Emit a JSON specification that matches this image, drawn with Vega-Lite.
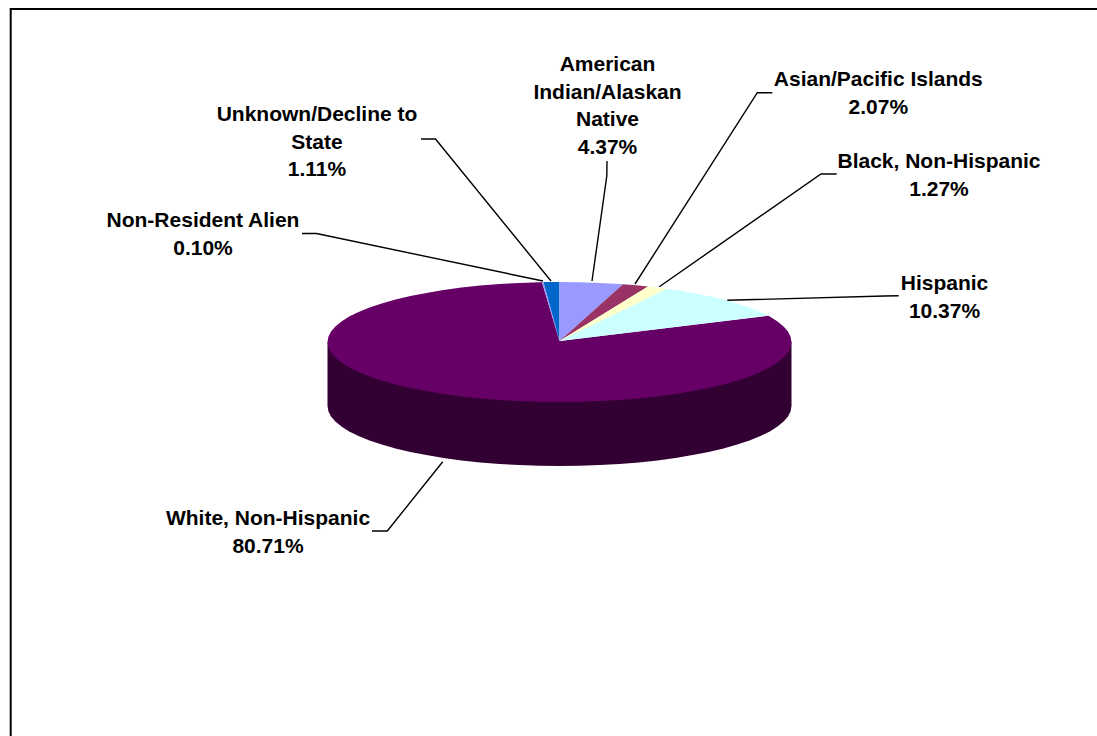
{
  "$schema": "https://vega.github.io/schema/vega-lite/v6.json",
  "width": 1097,
  "height": 736,
  "padding": 0,
  "autosize": "none",
  "background": "white",
  "config": {"view": {"stroke": null}},
  "datasets": {
    "slices": [
      {"slice":"Side","o":1,"x":232,"y":0},{"slice":"Side","o":2,"x":232,"y":-64},{"slice":"Side","o":3,"x":231.1,"y":-69.2},{"slice":"Side","o":4,"x":228.5,"y":-74.4},{"slice":"Side","o":5,"x":224.1,"y":-79.5},{"slice":"Side","o":6,"x":218,"y":-84.5},{"slice":"Side","o":7,"x":210.3,"y":-89.4},{"slice":"Side","o":8,"x":200.9,"y":-94},{"slice":"Side","o":9,"x":190,"y":-98.4},{"slice":"Side","o":10,"x":177.7,"y":-102.6},{"slice":"Side","o":11,"x":164,"y":-106.4},{"slice":"Side","o":12,"x":149.1,"y":-110},{"slice":"Side","o":13,"x":133.1,"y":-113.1},{"slice":"Side","o":14,"x":116,"y":-116},{"slice":"Side","o":15,"x":98,"y":-118.4},{"slice":"Side","o":16,"x":79.3,"y":-120.4},{"slice":"Side","o":17,"x":60,"y":-122},{"slice":"Side","o":18,"x":40.3,"y":-123.1},{"slice":"Side","o":19,"x":20.2,"y":-123.8},{"slice":"Side","o":20,"x":0,"y":-124},{"slice":"Side","o":21,"x":-20.2,"y":-123.8},{"slice":"Side","o":22,"x":-40.3,"y":-123.1},{"slice":"Side","o":23,"x":-60,"y":-122},{"slice":"Side","o":24,"x":-79.3,"y":-120.4},{"slice":"Side","o":25,"x":-98,"y":-118.4},{"slice":"Side","o":26,"x":-116,"y":-116},{"slice":"Side","o":27,"x":-133.1,"y":-113.1},{"slice":"Side","o":28,"x":-149.1,"y":-110},{"slice":"Side","o":29,"x":-164,"y":-106.4},{"slice":"Side","o":30,"x":-177.7,"y":-102.6},{"slice":"Side","o":31,"x":-190,"y":-98.4},{"slice":"Side","o":32,"x":-200.9,"y":-94},{"slice":"Side","o":33,"x":-210.3,"y":-89.4},{"slice":"Side","o":34,"x":-218,"y":-84.5},{"slice":"Side","o":35,"x":-224.1,"y":-79.5},{"slice":"Side","o":36,"x":-228.5,"y":-74.4},{"slice":"Side","o":37,"x":-231.1,"y":-69.2},{"slice":"Side","o":38,"x":-232,"y":-64},{"slice":"Side","o":39,"x":-232,"y":0},

      {"slice":"White, Non-Hispanic","o":1,"x":0,"y":1},{"slice":"White, Non-Hispanic","o":2,"x":208.5,"y":26.3},{"slice":"White, Non-Hispanic","o":3,"x":210.3,"y":25.4},{"slice":"White, Non-Hispanic","o":4,"x":218,"y":20.5},{"slice":"White, Non-Hispanic","o":5,"x":224.1,"y":15.5},{"slice":"White, Non-Hispanic","o":6,"x":228.5,"y":10.4},{"slice":"White, Non-Hispanic","o":7,"x":231.1,"y":5.2},{"slice":"White, Non-Hispanic","o":8,"x":232,"y":0},{"slice":"White, Non-Hispanic","o":9,"x":231.1,"y":-5.2},{"slice":"White, Non-Hispanic","o":10,"x":228.5,"y":-10.4},{"slice":"White, Non-Hispanic","o":11,"x":224.1,"y":-15.5},{"slice":"White, Non-Hispanic","o":12,"x":218,"y":-20.5},{"slice":"White, Non-Hispanic","o":13,"x":210.3,"y":-25.4},{"slice":"White, Non-Hispanic","o":14,"x":200.9,"y":-30},{"slice":"White, Non-Hispanic","o":15,"x":190,"y":-34.4},{"slice":"White, Non-Hispanic","o":16,"x":177.7,"y":-38.6},{"slice":"White, Non-Hispanic","o":17,"x":164,"y":-42.4},{"slice":"White, Non-Hispanic","o":18,"x":149.1,"y":-46},{"slice":"White, Non-Hispanic","o":19,"x":133.1,"y":-49.1},{"slice":"White, Non-Hispanic","o":20,"x":116,"y":-52},{"slice":"White, Non-Hispanic","o":21,"x":98,"y":-54.4},{"slice":"White, Non-Hispanic","o":22,"x":79.3,"y":-56.4},{"slice":"White, Non-Hispanic","o":23,"x":60,"y":-58},{"slice":"White, Non-Hispanic","o":24,"x":40.3,"y":-59.1},{"slice":"White, Non-Hispanic","o":25,"x":20.2,"y":-59.8},{"slice":"White, Non-Hispanic","o":26,"x":0,"y":-60},{"slice":"White, Non-Hispanic","o":27,"x":-20.2,"y":-59.8},{"slice":"White, Non-Hispanic","o":28,"x":-40.3,"y":-59.1},{"slice":"White, Non-Hispanic","o":29,"x":-60,"y":-58},{"slice":"White, Non-Hispanic","o":30,"x":-79.3,"y":-56.4},{"slice":"White, Non-Hispanic","o":31,"x":-98,"y":-54.4},{"slice":"White, Non-Hispanic","o":32,"x":-116,"y":-52},{"slice":"White, Non-Hispanic","o":33,"x":-133.1,"y":-49.1},{"slice":"White, Non-Hispanic","o":34,"x":-149.1,"y":-46},{"slice":"White, Non-Hispanic","o":35,"x":-164,"y":-42.4},{"slice":"White, Non-Hispanic","o":36,"x":-177.7,"y":-38.6},{"slice":"White, Non-Hispanic","o":37,"x":-190,"y":-34.4},{"slice":"White, Non-Hispanic","o":38,"x":-200.9,"y":-30},{"slice":"White, Non-Hispanic","o":39,"x":-210.3,"y":-25.4},{"slice":"White, Non-Hispanic","o":40,"x":-218,"y":-20.5},{"slice":"White, Non-Hispanic","o":41,"x":-224.1,"y":-15.5},{"slice":"White, Non-Hispanic","o":42,"x":-228.5,"y":-10.4},{"slice":"White, Non-Hispanic","o":43,"x":-231.1,"y":-5.2},{"slice":"White, Non-Hispanic","o":44,"x":-232,"y":0},{"slice":"White, Non-Hispanic","o":45,"x":-231.1,"y":5.2},{"slice":"White, Non-Hispanic","o":46,"x":-228.5,"y":10.4},{"slice":"White, Non-Hispanic","o":47,"x":-224.1,"y":15.5},{"slice":"White, Non-Hispanic","o":48,"x":-218,"y":20.5},{"slice":"White, Non-Hispanic","o":49,"x":-210.3,"y":25.4},{"slice":"White, Non-Hispanic","o":50,"x":-200.9,"y":30},{"slice":"White, Non-Hispanic","o":51,"x":-190,"y":34.4},{"slice":"White, Non-Hispanic","o":52,"x":-177.7,"y":38.6},{"slice":"White, Non-Hispanic","o":53,"x":-164,"y":42.4},{"slice":"White, Non-Hispanic","o":54,"x":-149.1,"y":46},{"slice":"White, Non-Hispanic","o":55,"x":-133.1,"y":49.1},{"slice":"White, Non-Hispanic","o":56,"x":-116,"y":52},{"slice":"White, Non-Hispanic","o":57,"x":-98,"y":54.4},{"slice":"White, Non-Hispanic","o":58,"x":-79.3,"y":56.4},{"slice":"White, Non-Hispanic","o":59,"x":-60,"y":58},{"slice":"White, Non-Hispanic","o":60,"x":-40.3,"y":59.1},{"slice":"White, Non-Hispanic","o":61,"x":-20.2,"y":59.8},{"slice":"White, Non-Hispanic","o":62,"x":-17.5,"y":59.8},

      {"slice":"Non-Resident Alien","o":1,"x":0,"y":1},{"slice":"Non-Resident Alien","o":2,"x":-17.5,"y":59.8},{"slice":"Non-Resident Alien","o":3,"x":-16,"y":59.9},

      {"slice":"Unknown/Decline to State","o":1,"x":0,"y":1},{"slice":"Unknown/Decline to State","o":2,"x":-16,"y":59.9},{"slice":"Unknown/Decline to State","o":3,"x":0,"y":60},

      {"slice":"American Indian/Alaskan Native","o":1,"x":0,"y":1},{"slice":"American Indian/Alaskan Native","o":2,"x":0,"y":60},{"slice":"American Indian/Alaskan Native","o":3,"x":20.2,"y":59.8},{"slice":"American Indian/Alaskan Native","o":4,"x":40.3,"y":59.1},{"slice":"American Indian/Alaskan Native","o":5,"x":60,"y":58},{"slice":"American Indian/Alaskan Native","o":6,"x":63.5,"y":57.7},

      {"slice":"Asian/Pacific Islands","o":1,"x":0,"y":1},{"slice":"Asian/Pacific Islands","o":2,"x":63.5,"y":57.7},{"slice":"Asian/Pacific Islands","o":3,"x":79.3,"y":56.4},{"slice":"Asian/Pacific Islands","o":4,"x":88.5,"y":55.5},

      {"slice":"Black, Non-Hispanic","o":1,"x":0,"y":1},{"slice":"Black, Non-Hispanic","o":2,"x":88.5,"y":55.5},{"slice":"Black, Non-Hispanic","o":3,"x":98,"y":54.4},{"slice":"Black, Non-Hispanic","o":4,"x":107.5,"y":53.1},

      {"slice":"Hispanic","o":1,"x":0,"y":1},{"slice":"Hispanic","o":2,"x":107.5,"y":53.1},{"slice":"Hispanic","o":3,"x":116,"y":52},{"slice":"Hispanic","o":4,"x":133.1,"y":49.1},{"slice":"Hispanic","o":5,"x":149.1,"y":46},{"slice":"Hispanic","o":6,"x":164,"y":42.4},{"slice":"Hispanic","o":7,"x":177.7,"y":38.6},{"slice":"Hispanic","o":8,"x":190,"y":34.4},{"slice":"Hispanic","o":9,"x":200.9,"y":30},{"slice":"Hispanic","o":10,"x":208.5,"y":26.3}
    ],
    "leaders": [
      {"leader":"Unknown","o":1,"x":-138.5,"y":203},{"leader":"Unknown","o":2,"x":-124,"y":203},{"leader":"Unknown","o":3,"x":-8.5,"y":61},
      {"leader":"Non-Resident","o":1,"x":-257.5,"y":108.5},{"leader":"Non-Resident","o":2,"x":-243,"y":108.5},{"leader":"Non-Resident","o":3,"x":-16.5,"y":61},
      {"leader":"American","o":1,"x":47.5,"y":181},{"leader":"American","o":2,"x":47.3,"y":166},{"leader":"American","o":3,"x":32.5,"y":61},
      {"leader":"Asian","o":1,"x":212.8,"y":249.3},{"leader":"Asian","o":2,"x":197.8,"y":249.3},{"leader":"Asian","o":3,"x":75.5,"y":58},
      {"leader":"Black","o":1,"x":277.2,"y":168},{"leader":"Black","o":2,"x":261.5,"y":168},{"leader":"Black","o":3,"x":99.8,"y":55.3},
      {"leader":"Hispanic","o":1,"x":339.2,"y":46.3},{"leader":"Hispanic","o":2,"x":324.8,"y":46},{"leader":"Hispanic","o":3,"x":167.8,"y":41.7},
      {"leader":"White","o":1,"x":-187.5,"y":-189},{"leader":"White","o":2,"x":-172.2,"y":-189},{"leader":"White","o":3,"x":-116.8,"y":-119.7}
    ],
    "labels": [
      {"text":"American\nIndian/Alaskan\nNative\n4.37%","share":4.37,"x":48,"y":288},
      {"text":"Asian/Pacific Islands\n2.07%","share":2.07,"x":318.8,"y":273},
      {"text":"Black, Non-Hispanic\n1.27%","share":1.27,"x":379.5,"y":191},
      {"text":"Hispanic\n10.37%","share":10.37,"x":385,"y":69},
      {"text":"White, Non-Hispanic\n80.71%","share":80.71,"x":-291.5,"y":-166},
      {"text":"Non-Resident Alien\n0.10%","share":0.1,"x":-356.5,"y":132},
      {"text":"Unknown/Decline to\nState\n1.11%","share":1.11,"x":-242.5,"y":238}
    ],
    "frame": [
      {"o":1,"x":-548.8,"y":-394},{"o":2,"x":-548.8,"y":333},{"o":3,"x":537.5,"y":333}
    ]
  },
  "layer": [
    {
      "data": {"name": "frame"},
      "mark": {"type": "line", "color": "black", "strokeWidth": 2},
      "encoding": {
        "x": {"field": "x", "type": "quantitative", "scale": {"domain": [-559.5, 537.5], "nice": false, "zero": false}, "axis": null},
        "y": {"field": "y", "type": "quantitative", "scale": {"domain": [-394, 342], "nice": false, "zero": false}, "axis": null},
        "order": {"field": "o"}
      }
    },
    {
      "data": {"name": "slices"},
      "mark": {"type": "line", "filled": true, "strokeWidth": 0},
      "encoding": {
        "x": {"field": "x", "type": "quantitative"},
        "y": {"field": "y", "type": "quantitative"},
        "order": {"field": "o"},
        "color": {
          "field": "slice",
          "type": "nominal",
          "legend": null,
          "scale": {
            "domain": ["Side", "White, Non-Hispanic", "Non-Resident Alien", "Unknown/Decline to State", "American Indian/Alaskan Native", "Asian/Pacific Islands", "Black, Non-Hispanic", "Hispanic"],
            "range": ["#330033", "#660066", "#9999ff", "#0066cc", "#9999ff", "#993366", "#ffffcc", "#ccffff"]
          }
        }
      }
    },
    {
      "data": {"name": "leaders"},
      "mark": {"type": "line", "color": "black", "strokeWidth": 1.4},
      "encoding": {
        "x": {"field": "x", "type": "quantitative"},
        "y": {"field": "y", "type": "quantitative"},
        "detail": {"field": "leader"},
        "order": {"field": "o"}
      }
    },
    {
      "data": {"name": "labels"},
      "mark": {"type": "text", "font": "Liberation Sans", "fontWeight": "bold", "fontSize": 21, "lineBreak": "\n", "lineHeight": 27.5, "align": "center", "baseline": "top", "color": "black"},
      "encoding": {
        "x": {"field": "x", "type": "quantitative"},
        "y": {"field": "y", "type": "quantitative"},
        "text": {"field": "text"}
      }
    }
  ]
}
